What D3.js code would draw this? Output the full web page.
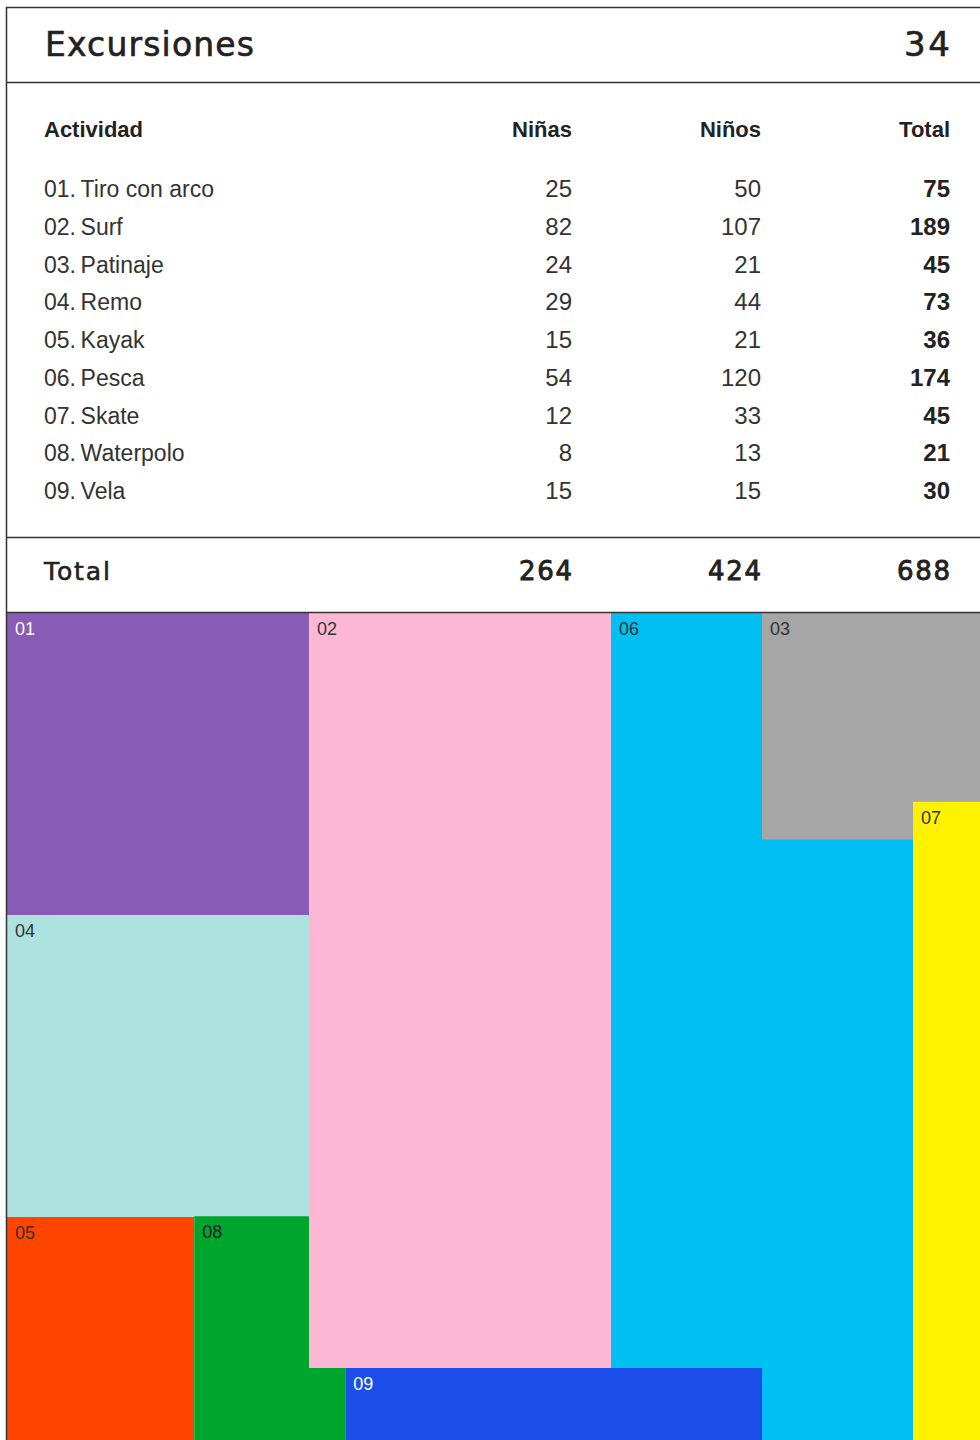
<!DOCTYPE html>
<html>
<head>
<meta charset="utf-8">
<script src="https://cdn.jsdelivr.net/npm/d3@7"></script>
<style>
	body { margin: 0; background: #fff; }
	svg { display: block; }
</style>
</head>
<body>
<div id="chart"></div>
<script>
(function () {
	//Width and height
	var w = 980;
	var h = 1440;

	//Data
	var title = "Excursiones";
	var pageNumber = "34";
	var columns = ["Niñas", "Niños", "Total"];
	var codes = ["01", "02", "03", "04", "05", "06", "07", "08", "09"];
	var activities = ["Tiro con arco", "Surf", "Patinaje", "Remo", "Kayak", "Pesca", "Skate", "Waterpolo", "Vela"];
	var ninas = [25, 82, 24, 29, 15, 54, 12, 8, 15];
	var ninos = [50, 107, 21, 44, 21, 120, 33, 13, 15];
	var colors = ["#875bb6", "#fcb7d5", "#a6a6a6", "#ade2de", "#ff4400", "#00bff3", "#fff200", "#00a52e", "#1c4fe9"];
	var labelColors = ["#fff", "#333", "#333", "#333", "#333", "#333", "#333", "#222", "#fff"];

	//Block layout in grid units (drawing order matters, blocks overlap)
	var blockLayout = [
		{ id: "06", c: 4, r: 0, w: 2, h: 6 },
		{ id: "01", c: 0, r: 0, w: 2, h: 2 },
		{ id: "04", c: 0, r: 2, w: 2, h: 2 },
		{ id: "05", c: 0, r: 4, w: 1.24, h: 2 },
		{ id: "08", c: 1.24, r: 3.995, w: 1.0, h: 2 },
		{ id: "02", c: 2, r: 0, w: 2, h: 5 },
		{ id: "09", c: 2.24, r: 5, w: 2.76, h: 1 },
		{ id: "03", c: 5, r: 0, w: 1.6, h: 1.5 },
		{ id: "07", c: 6, r: 1.25, w: 1, h: 5 }
	];

	var rows = codes.map(function (c, i) {
		return { code: c, name: activities[i], Niñas: ninas[i], Niños: ninos[i], Total: ninas[i] + ninos[i] };
	});
	var sums = {
		"Niñas": d3.sum(ninas),
		"Niños": d3.sum(ninos)
	};
	sums["Total"] = sums["Niñas"] + sums["Niños"];

	var ink = "#222";
	var wideFont = "'DejaVu Sans', sans-serif";
	var bodyFont = "'Liberation Sans', Arial, sans-serif";

	//Scales
	var colScale = d3.scalePoint().domain(columns).range([572, 950]);
	var rowScale = d3.scalePoint().domain(codes).range([197, 499]);
	var gx = d3.scaleLinear().domain([0, 1]).range([7, 158]);
	var gy = d3.scaleLinear().domain([0, 1]).range([613, 764]);

	//Create SVG element
	var svg = d3.select("#chart")
		.append("svg")
		.attr("width", w)
		.attr("height", h);

	//Blocks
	var blocks = svg.append("g");
	blockLayout.forEach(function (b) {
		var i = codes.indexOf(b.id);
		blocks.append("rect")
			.attr("x", gx(b.c))
			.attr("y", gy(b.r))
			.attr("width", gx(b.c + b.w) - gx(b.c))
			.attr("height", gy(b.r + b.h) - gy(b.r))
			.attr("fill", colors[i]);
		blocks.append("text")
			.attr("x", gx(b.c) + 8)
			.attr("y", gy(b.r) + 22)
			.attr("font-family", bodyFont)
			.attr("font-size", 18)
			.attr("fill", labelColors[i])
			.text(b.id);
	});

	//Frame lines
	var line = function (x1, y1, x2, y2) {
		svg.append("line")
			.attr("x1", x1).attr("y1", y1)
			.attr("x2", x2).attr("y2", y2)
			.attr("stroke", "#333")
			.attr("stroke-width", 1.5);
	};
	line(6, 7.5, w, 7.5);
	line(6.5, 7, 6.5, h);
	line(6, 82.5, w, 82.5);
	line(6, 537.5, w, 537.5);
	line(6, 612.5, w, 612.5);

	//Title row - wide face, stretched to the width of the original lettering
	svg.append("text")
		.attr("x", 45)
		.attr("y", 56)
		.attr("font-family", wideFont)
		.attr("font-size", 33)
		.attr("textLength", 209)
		.attr("lengthAdjust", "spacing")
		.attr("fill", ink)
		.attr("stroke", ink)
		.attr("stroke-width", 0.6)
		.text(title);
	svg.append("text")
		.attr("x", 950)
		.attr("y", 56)
		.attr("text-anchor", "end")
		.attr("font-family", wideFont)
		.attr("font-size", 34)
		.attr("textLength", 46)
		.attr("lengthAdjust", "spacing")
		.attr("fill", ink)
		.attr("stroke", ink)
		.attr("stroke-width", 0.6)
		.text(pageNumber);

	//Table header
	svg.append("text")
		.attr("x", 44)
		.attr("y", 137)
		.attr("font-family", bodyFont)
		.attr("font-weight", "bold")
		.attr("font-size", 22)
		.attr("fill", ink)
		.text("Actividad");
	svg.selectAll("text.head")
		.data(columns)
		.enter()
		.append("text")
		.attr("class", "head")
		.attr("x", function (d) { return colScale(d); })
		.attr("y", 137)
		.attr("text-anchor", "end")
		.attr("font-family", bodyFont)
		.attr("font-weight", "bold")
		.attr("font-size", 22)
		.attr("fill", ink)
		.text(function (d) { return d; });

	//Table rows
	var rowG = svg.selectAll("g.row")
		.data(rows)
		.enter()
		.append("g")
		.attr("class", "row")
		.attr("transform", function (d) { return "translate(0," + rowScale(d.code) + ")"; });

	rowG.append("text")
		.attr("x", 44)
		.attr("font-family", bodyFont)
		.attr("font-size", 23)
		.attr("fill", "#333")
		.text(function (d) { return d.code + ".\u2009" + d.name; });

	columns.forEach(function (col) {
		rowG.append("text")
			.attr("x", colScale(col))
			.attr("text-anchor", "end")
			.attr("font-family", bodyFont)
			.attr("font-size", 24)
			.attr("font-weight", col === "Total" ? "bold" : "normal")
			.attr("fill", col === "Total" ? ink : "#333")
			.text(function (d) { return d[col]; });
	});

	//Totals row
	svg.append("text")
		.attr("x", 44)
		.attr("y", 580)
		.attr("font-family", wideFont)
		.attr("font-size", 25)
		.attr("textLength", 66)
		.attr("lengthAdjust", "spacing")
		.attr("fill", ink)
		.attr("stroke", ink)
		.attr("stroke-width", 0.6)
		.text("Total");
	svg.selectAll("text.sum")
		.data(columns)
		.enter()
		.append("text")
		.attr("class", "sum")
		.attr("x", function (d) { return colScale(d); })
		.attr("y", 580)
		.attr("text-anchor", "end")
		.attr("font-family", wideFont)
		.attr("font-size", 26)
		.attr("textLength", 53)
		.attr("lengthAdjust", "spacing")
		.attr("fill", ink)
		.attr("stroke", ink)
		.attr("stroke-width", 0.9)
		.text(function (d) { return sums[d]; });
})();
</script>
</body>
</html>
